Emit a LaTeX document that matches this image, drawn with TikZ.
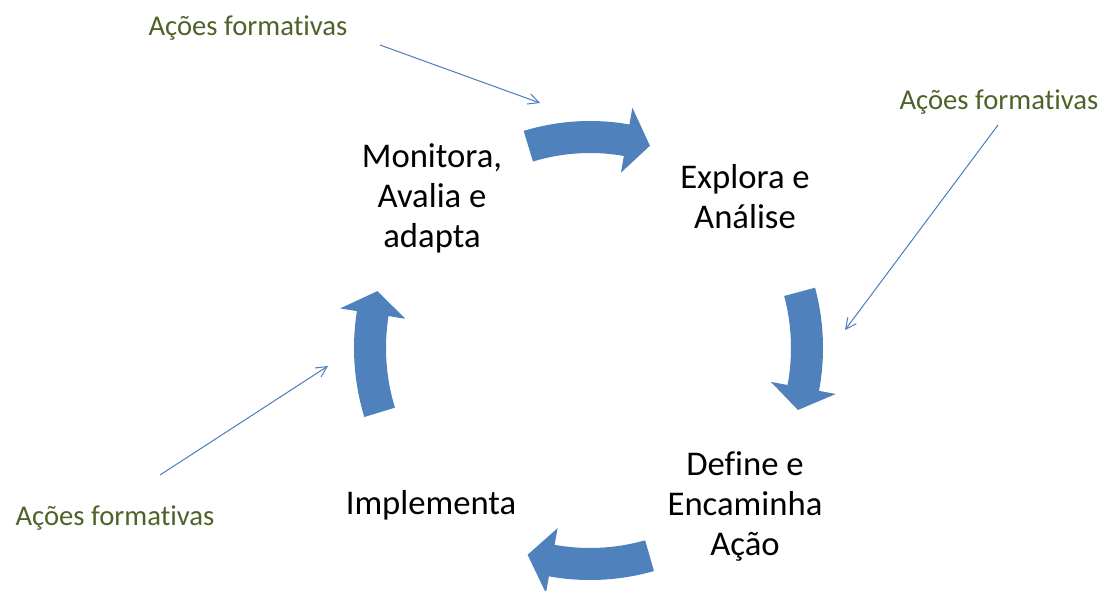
\documentclass[tikz,border=0pt]{standalone}
\usepackage{fontspec}
\setmainfont{Carlito}[Ligatures={NoCommon}]
\usetikzlibrary{arrows.meta}
\definecolor{cyclefill}{HTML}{4F81BD}
\definecolor{noteline}{HTML}{4A7EBB}
\definecolor{notegreen}{HTML}{4F6228}

% curved block arrow on a circle: tail angle, head base angle, tip angle, radius
\newcommand{\cyclearrow}[4]{%
  \fill[cyclefill, shift={(590,348)}]
    ({#1}:{#4-16}) arc[start angle={#1}, end angle={#2}, radius={#4-16}]
    -- ({#2}:{#4-33}) -- ({#3}:{#4}) -- ({#2}:{#4+33})
    -- ({#2}:{#4+16}) arc[start angle={#2}, end angle={#1}, radius={#4+16}]
    -- cycle;}

\begin{document}
\begin{tikzpicture}[x=0.75pt, y=-0.75pt,
  stage/.style={align=center, font=\fontsize{26}{30}\selectfont, inner sep=0pt},
  note/.style={text=notegreen, font=\fontsize{21.5}{26}\selectfont, inner sep=0pt},
  pointer/.style={draw=noteline, line width=0.75pt, -{Straight Barb[length=8pt, width=8pt]}}]
\useasboundingbox (0,0) rectangle (1105,590);

% the four curved arrows of the cycle
\cyclearrow{-107}{-80}{-73.5}{211}
\cyclearrow{-15}{10.6}{16.6}{217}
\cyclearrow{74}{100.2}{106.8}{216}
\cyclearrow{163}{189}{195}{220}

% stages
\node[stage] (monitora) at (432,198) {Monitora,\\Avalia e\\adapta};
\node[stage] (explora) at (745,197) {Explora e\\Análise};
\node[stage] (define) at (745,506) {Define e\\Encaminha\\Ação};
\node[stage] (implementa) at (431,505) {Implementa};

% notes
\node[note] (n1) at (248,28) {Ações formativas};
\node[note] (n2) at (999,102) {Ações formativas};
\node[note] (n3) at (115,518) {Ações formativas};

\coordinate (s1) at (380,45);  \coordinate (e1) at (540,103);
\coordinate (s2) at (998,125); \coordinate (e2) at (845,330);
\coordinate (s3) at (160,475); \coordinate (e3) at (328,366);

\draw[pointer] (s1) -- (e1);
\draw[pointer] (s2) -- (e2);
\draw[pointer] (s3) -- (e3);
\end{tikzpicture}
\end{document}
